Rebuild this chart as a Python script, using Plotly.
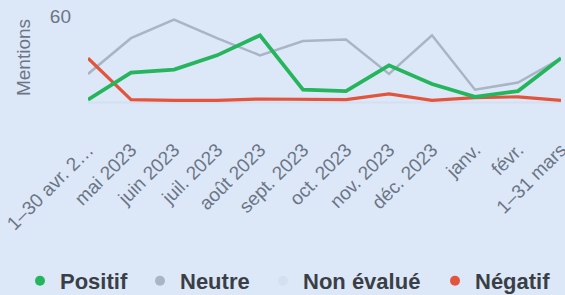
import plotly.graph_objects as go

months = ["1–30 avr. 2…", "mai 2023", "juin 2023", "juil. 2023", "août 2023", "sept. 2023",
          "oct. 2023", "nov. 2023", "déc. 2023", "janv.", "févr.", "1–31 mars"]
positif = [2, 21, 23, 33, 47, 9, 8, 26, 13, 4, 8, 31]
neutre = [20, 45, 58, 45, 33, 43, 44, 20, 47, 9, 14, 31]
non_evalue = [0, 0, 0, 0, 0, 0, 0, 0, 0, 0, 0, 0]
negatif = [31, 2, 1.5, 1.5, 2.5, 2.5, 2, 6, 1.5, 3.5, 4, 1.5]

series = [
    ("Non évalué", non_evalue, "#d4dff0", 2),
    ("Neutre", neutre, "#a9b4c4", 2.5),
    ("Négatif", negatif, "#e2553c", 3.2),
    ("Positif", positif, "#25b55c", 3.8),
]
legend_order = ["Positif", "Neutre", "Non évalué", "Négatif"]
legend_x_px = [20, 140, 263, 435]
colors = {n: c for n, _, c, _ in series}

W, H = 565, 295
bg = "#dce8f8"
lab = "#6b7585"
fam = "Liberation Sans, Arial, sans-serif"

fig = go.Figure()
for name, vals, color, w in series:
    fig.add_trace(go.Scatter(x=months, y=vals, mode="lines", name=name,
                             line=dict(color=color, width=w), showlegend=False))

legend_layout = {}
for i, (name, lx) in enumerate(zip(legend_order, legend_x_px)):
    key = "legend" if i == 0 else f"legend{i + 1}"
    fig.add_trace(go.Scatter(x=[None], y=[None], mode="markers", name=name,
                             marker=dict(color=colors[name], size=10), legend=key))
    legend_layout[key] = dict(
        orientation="h", xref="container", yref="container",
        x=lx / W, xanchor="left", y=1 - 281 / H, yanchor="middle",
        bgcolor="rgba(0,0,0,0)", borderwidth=0,
        font=dict(size=22, color="#3a3f47", family=fam, weight="bold"),
    )

fig.update_layout(
    width=W, height=H,
    paper_bgcolor=bg, plot_bgcolor=bg,
    margin=dict(l=88, r=4, t=11, b=191),
    font=dict(family=fam, color=lab, size=19),
    showlegend=True,
    xaxis=dict(showgrid=False, zeroline=False, showline=False, tickangle=-45,
               ticklabelstandoff=30, tickfont=dict(size=19, color=lab),
               range=[0, 11], automargin=False),
    yaxis=dict(showgrid=False, zeroline=False, showline=False, range=[-1, 64],
               tickvals=[60], ticktext=["60"], ticklabelstandoff=16,
               tickfont=dict(size=19, color=lab), automargin=False,
               title=dict(text="Mentions", font=dict(size=19, color=lab), standoff=14)),
    **legend_layout,
)
fig.write_html(
    "out.html",
    config={"displayModeBar": False},
    post_script="document.body.style.margin='0';document.body.style.background='%s';" % bg,
)
